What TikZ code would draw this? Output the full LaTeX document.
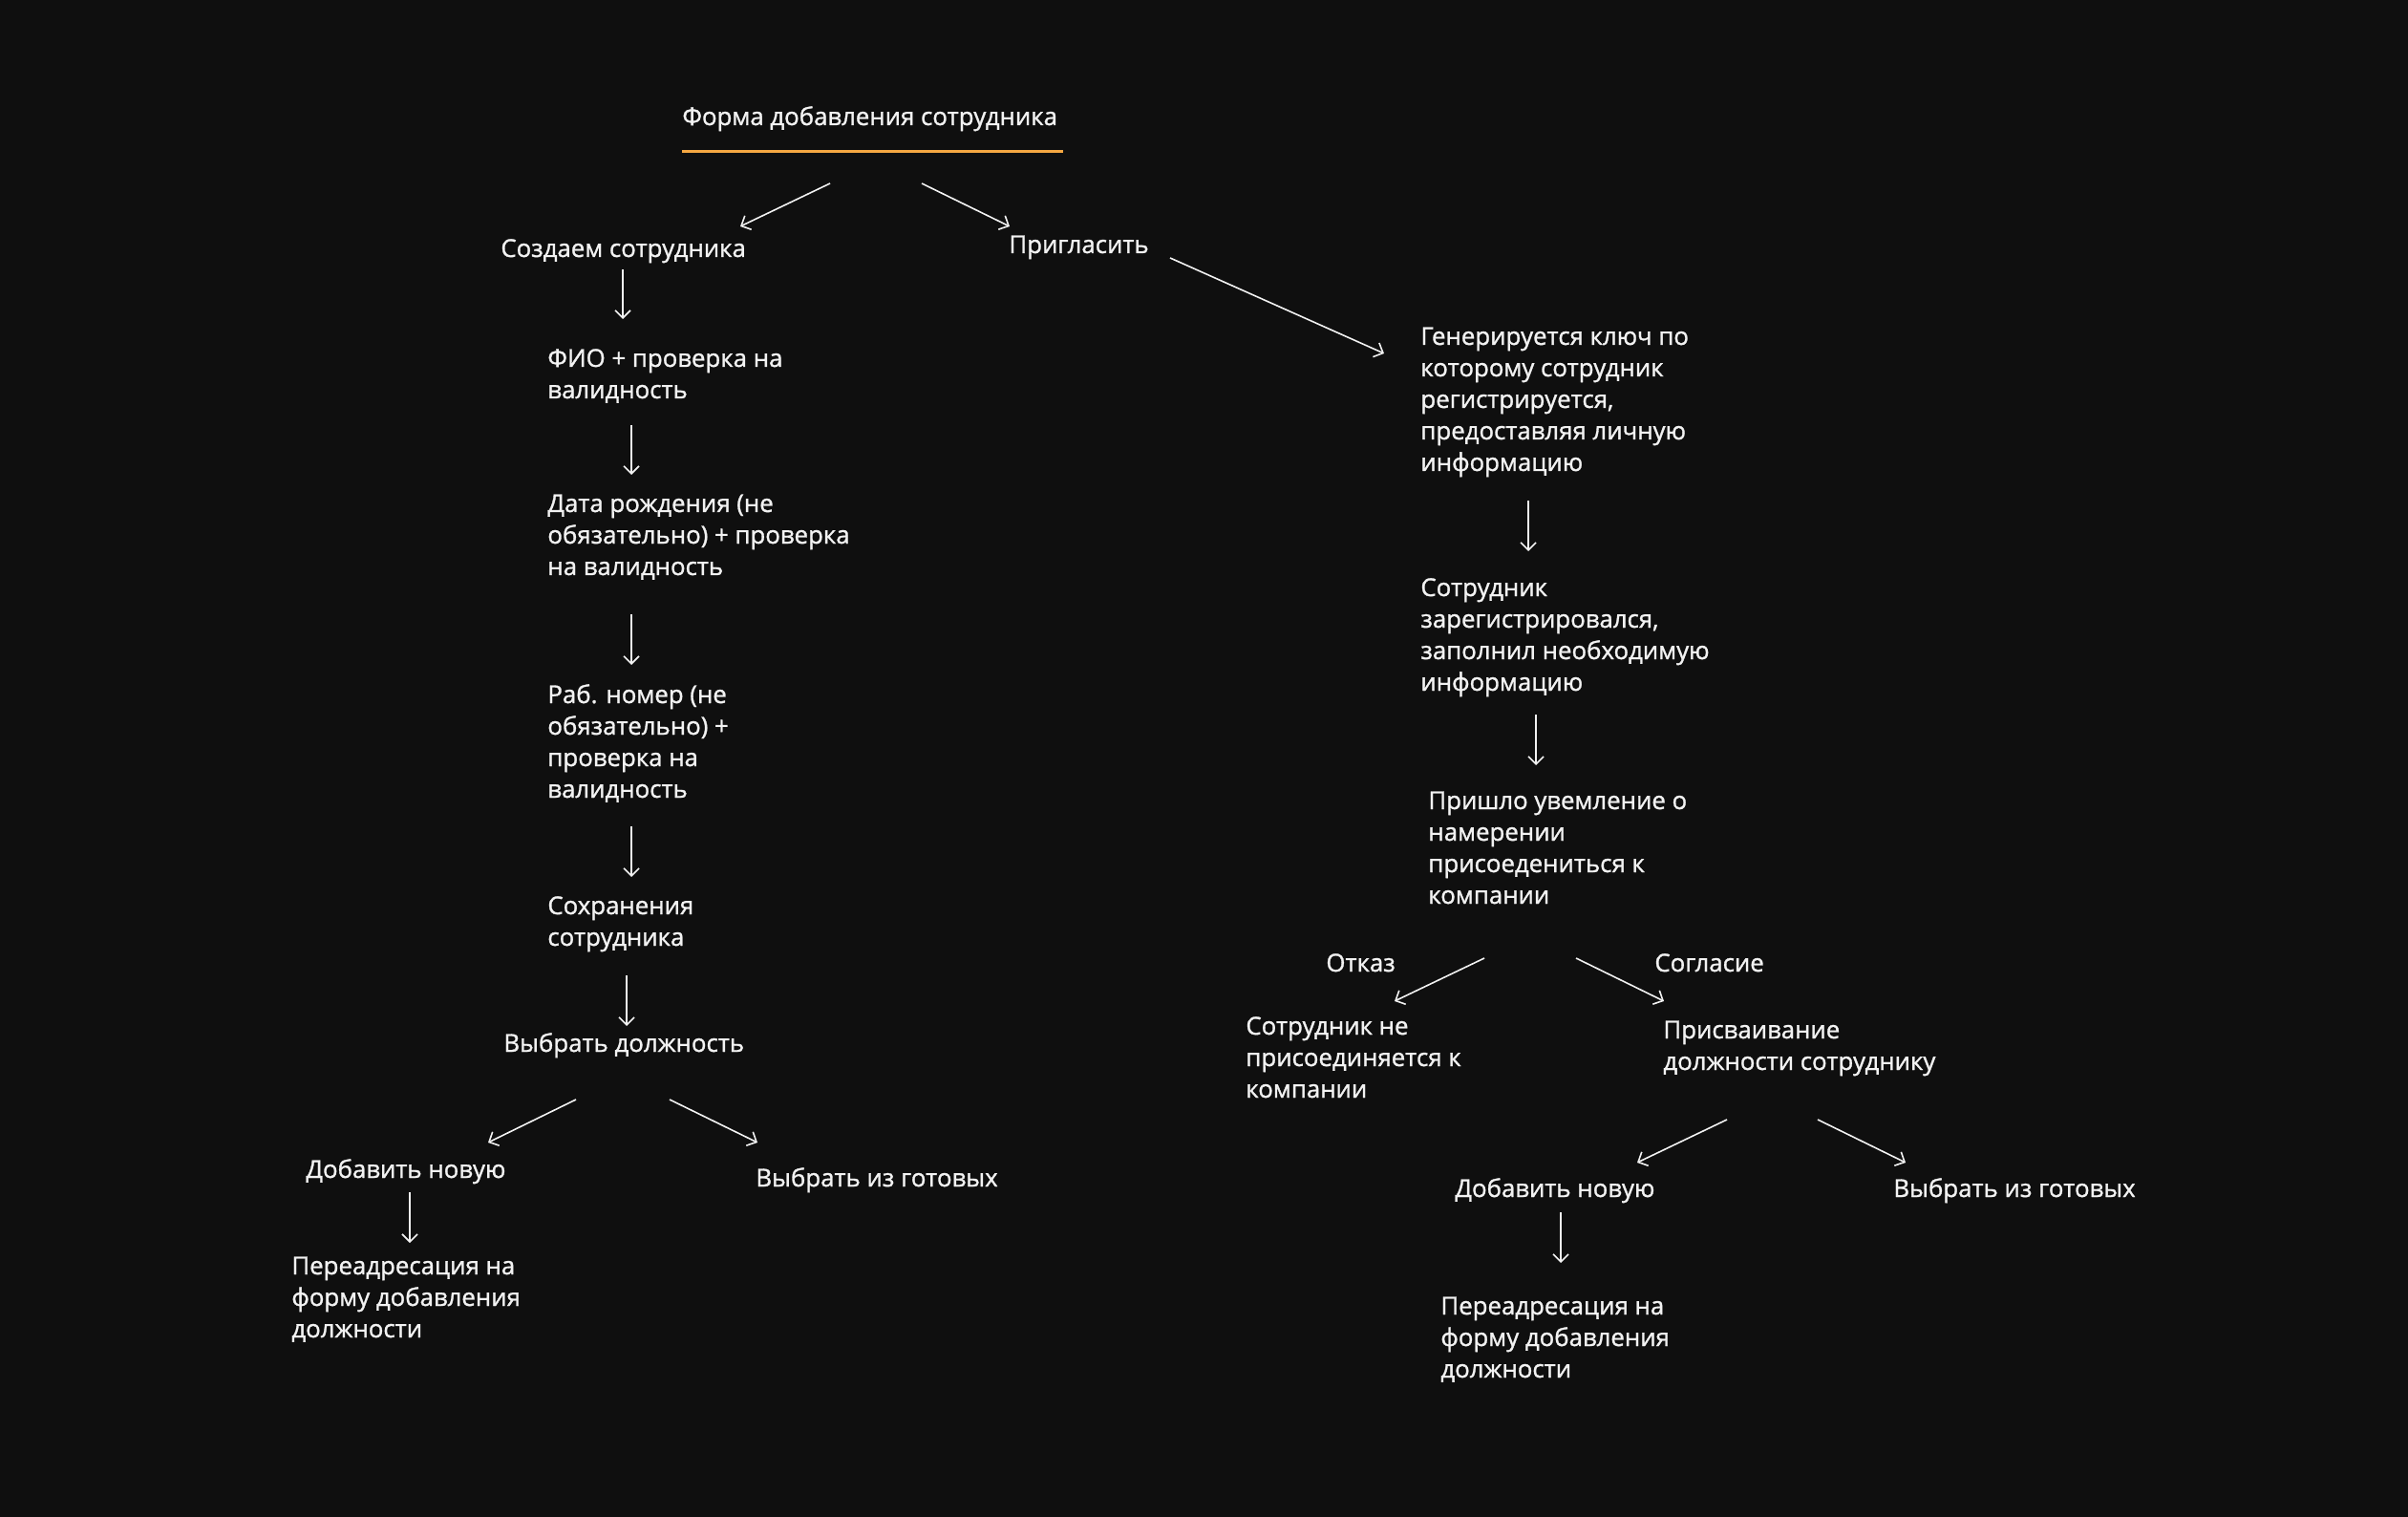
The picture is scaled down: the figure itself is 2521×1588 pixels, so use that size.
\documentclass[tikz,border=0pt]{standalone}
\usepackage{fontspec}
\setmainfont{Open Sans}[FakeBold=1.2]
\usetikzlibrary{arrows.meta}
\definecolor{bg}{HTML}{0F0F0F}
\definecolor{ink}{HTML}{F2F2F2}
\definecolor{accent}{HTML}{F5A742}
\begin{document}
\begin{tikzpicture}[x=0.5pt,y=-0.5pt,
  lbl/.style={anchor=base west, inner sep=0pt, align=left, text=ink,
    font=\fontsize{12.9pt}{16.5pt}\selectfont},
  arr/.style={draw=ink, line width=0.8pt, -{Straight Barb[length=4pt,width=8pt]}}]
% canvas
\fill[bg] (0,0) rectangle (2521,1588);
\useasboundingbox (0,0) rectangle (2521,1588);

% ---- title ----
% (multi-line labels are placed by the baseline of their last line)
\node[lbl] (title) at (714,131) {Форма добавления сотрудника};
\draw[accent, line width=1.5pt] (714,159) -- (1113,159);

% ---- left branch: create employee ----
\node[lbl] (create) at (524,269) {Создаем сотрудника};
\node[lbl] (invite) at (1056,265) {Пригласить};
\node[lbl] (fio) at (573,417) {ФИО + проверка на\\валидность};
\node[lbl] (birth) at (573,602) {Дата рождения (не\\обязательно) + проверка\\на валидность};
\node[lbl] (phone) at (573,835) {Раб. номер (не\\обязательно) +\\проверка на\\валидность};
\node[lbl] (save) at (573,990) {Сохранения\\сотрудника};
\node[lbl] (pos) at (527,1101) {Выбрать должность};
\node[lbl] (addL) at (320,1233) {Добавить новую};
\node[lbl] (pickL) at (791,1242) {Выбрать из готовых};
\node[lbl] (redirL) at (305,1400) {Переадресация на\\форму добавления\\должности};

% ---- right branch: invitation ----
\node[lbl] (key) at (1487,493) {Генерируется ключ по\\которому сотрудник\\регистрируется,\\предоставляя личную\\информацию};
\node[lbl] (reg) at (1487,723) {Сотрудник\\зарегистрировался,\\заполнил необходимую\\информацию};
\node[lbl] (notice) at (1495,946) {Пришло увемление о\\намерении\\присоедениться к\\компании};
\node[lbl] (refuse) at (1388,1017) {Отказ};
\node[lbl] (agree) at (1732,1017) {Согласие};
\node[lbl] (nojoin) at (1304,1149) {Сотрудник не\\присоединяется к\\компании};
\node[lbl] (assign) at (1741,1120) {Присваивание\\должности сотруднику};
\node[lbl] (addR) at (1523,1253) {Добавить новую};
\node[lbl] (pickR) at (1982,1253) {Выбрать из готовых};
\node[lbl] (redirR) at (1508,1442) {Переадресация на\\форму добавления\\должности};

% ---- arrow end points ----
\coordinate (t1) at (869,192);   \coordinate (t1e) at (775,237);
\coordinate (t2) at (965,192);   \coordinate (t2e) at (1057,237);
\coordinate (c1) at (652,282);   \coordinate (c1e) at (652,334);
\coordinate (f1) at (661,445);   \coordinate (f1e) at (661,497);
\coordinate (b1) at (661,643);   \coordinate (b1e) at (661,696);
\coordinate (p1) at (661,865);   \coordinate (p1e) at (661,918);
\coordinate (s1) at (656,1021);  \coordinate (s1e) at (656,1074);
\coordinate (q1) at (603,1151);  \coordinate (q1e) at (511,1196);
\coordinate (q2) at (701,1151);  \coordinate (q2e) at (793,1196);
\coordinate (a1) at (429,1248);  \coordinate (a1e) at (429,1301);
\coordinate (i1) at (1225,270);  \coordinate (i1e) at (1449,370);
\coordinate (k1) at (1600,524);  \coordinate (k1e) at (1600,577);
\coordinate (r1) at (1608,748);  \coordinate (r1e) at (1608,801);
\coordinate (n1) at (1554,1003); \coordinate (n1e) at (1460,1048);
\coordinate (n2) at (1650,1003); \coordinate (n2e) at (1742,1048);
\coordinate (g1) at (1808,1172); \coordinate (g1e) at (1714,1217);
\coordinate (g2) at (1903,1172); \coordinate (g2e) at (1995,1217);
\coordinate (d1) at (1634,1269); \coordinate (d1e) at (1634,1322);

% ---- connectors ----
\draw[arr] (t1) -- (t1e);
\draw[arr] (t2) -- (t2e);
\draw[arr] (c1) -- (c1e);
\draw[arr] (f1) -- (f1e);
\draw[arr] (b1) -- (b1e);
\draw[arr] (p1) -- (p1e);
\draw[arr] (s1) -- (s1e);
\draw[arr] (q1) -- (q1e);
\draw[arr] (q2) -- (q2e);
\draw[arr] (a1) -- (a1e);
\draw[arr] (i1) -- (i1e);
\draw[arr] (k1) -- (k1e);
\draw[arr] (r1) -- (r1e);
\draw[arr] (n1) -- (n1e);
\draw[arr] (n2) -- (n2e);
\draw[arr] (g1) -- (g1e);
\draw[arr] (g2) -- (g2e);
\draw[arr] (d1) -- (d1e);
\end{tikzpicture}
\end{document}
